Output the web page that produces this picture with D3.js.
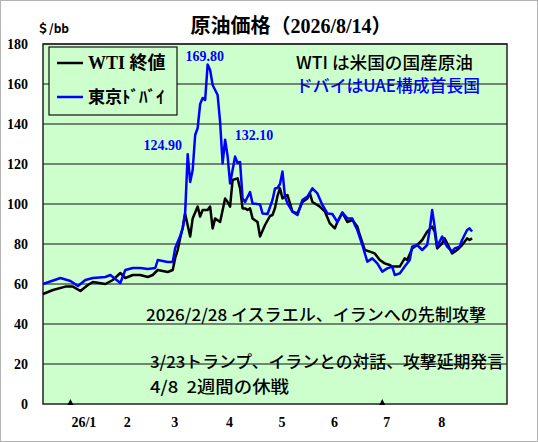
<!DOCTYPE html>
<html>
<head>
<meta charset="utf-8">
<script src="https://cdn.jsdelivr.net/npm/d3@7"></script>
<style>
  body { margin: 0; background: #fff; }
  .num { font-family: "Liberation Serif", "Times New Roman", serif; font-weight: bold; }
  .jp { font-family: "Noto Sans CJK JP", sans-serif; }
</style>
</head>
<body>
<svg width="538" height="442"></svg>
<script>
// trading-day index, value
var wti = [[0,55],[4,57],[9,58.7],[12,58.7],[15,56.5],[18,59.5],[20,61],[25,60],[28,62],[31,65.5],[33,63],
  [36,64.5],[39,64.5],[42,63.5],[44,64.5],[46,67],[50,66],[52,67],[53,73],[54,77],[55,83],[56,88],[57,95],
  [59,83.7],[60,92.8],[62,98.7],[63,93.7],[64,97],[66,97],[67,98.7],[68,87.8],[69,92.8],[71,91],[73,102.8],
  [74,101],[75,98.7],[76,112],[78,112.8],[79,107.8],[80,97.8],[81,97.8],[82,97],[83,97.8],[84,92.8],[86,91],
  [87,83.7],[89,89.5],[91,94],[92,94.5],[93,98],[94,104],[95,107.8],[96,102.8],[98,104.5],[100,96.2],
  [102,95.3],[104,101],[106,102.8],[107,105.3],[108,101],[111,98.7],[113,96.2],[115,90.3],[117,87.8],
  [118,91],[120,95.7],[122,91],[124,92],[126,88.7],[127,84.5],[129,77],[131,76.2],[133,75.3],[135,72],
  [137,70.3],[139,69.5],[140,68.7],[143,68.7],[145,72.8],[146,72],[148,77.8],[150,79.5],[152,82],[154,86.2],
  [156,88.7],[157,86.2],[158,77.8],[160,80.3],[161,82.8],[162,80.3],[164,75.3],[166,77],[168,79.5],
  [170,82.8],[171,82],[172,82.8]];

var dubai = [[0,60],[7,63],[11,61.5],[14,59],[17,62],[20,63],[25,63.5],[27,64.5],[30,61.5],[31,60.5],
  [33,67],[36,68],[39,68],[42,67.5],[45,68],[46,72],[50,71],[52,71],[53,78],[54,81],[55,84],[56,88],
  [57,96],[58,124.9],[59,111],[60,117],[61,134.5],[62,138],[63,150],[64,153],[65,152],[66,169.8],
  [67,167],[68,159.5],[69,157],[70,154.5],[71,141],[72,120.3],[73,132.1],[74,124],[75,110.3],[77,123.7],
  [78,120.5],[79,121],[80,102.8],[81,101],[83,106],[84,100.3],[87,99.8],[88,95.3],[90,95],[92,102],
  [93,107.8],[94,108],[95,110],[96,116.2],[97,103.7],[98,100.3],[100,96.2],[102,94.5],[104,102],
  [106,103.7],[108,107.8],[110,105.3],[112,99.5],[114,95.3],[116,95],[118,91],[120,95.7],[122,92.8],
  [124,92.8],[125,89.5],[126,87],[128,79.5],[130,71.2],[132,72.8],[134,70.3],[136,66.2],[138,67.8],
  [140,68.7],[141,64.5],[143,65.3],[145,68.7],[147,72],[148,78.7],[150,79.5],[152,77],[154,79.5],
  [155,87],[156,97],[157,88.7],[158,78.7],[160,83.7],[162,78.7],[164,76.2],[165,77.8],[167,78.7],
  [168,82],[170,87],[171,87.8],[172,86.2]];

var yTicks = [0, 20, 40, 60, 80, 100, 120, 140, 160, 180];
var monthLabels = ["26/1", "2", "3", "4", "5", "6", "7", "8"];
var monthIdx = [11, 32, 51, 73, 94, 115, 136, 158];
var markerIdx = [11, 136];
var peaks = [["124.90", 58], ["169.80", 66], ["132.10", 73]];
var notes = ["2026/2/28 イスラエル、イランへの先制攻撃",
             "3/23トランプ、イランとの対話、攻撃延期発言",
             "4/8  2週間の休戦"];

var svg = d3.select("svg"),
    width = +svg.attr("width"),
    height = +svg.attr("height");

var pl = 43, pr = 507, pt = 44, pb = 404;

var x = d3.scaleLinear().domain([0, 186]).range([pl, pr]);
var y = d3.scaleLinear().domain([0, 180]).range([pb, pt]);

// outer dotted frame
svg.append("rect")
    .attr("x", 0.5).attr("y", 0.5)
    .attr("width", width - 1).attr("height", height - 1)
    .attr("fill", "#fff")
    .attr("stroke", "#666")
    .attr("stroke-dasharray", "1,1");

// plot background
svg.append("rect")
    .attr("x", pl).attr("y", pt)
    .attr("width", pr - pl).attr("height", pb - pt)
    .attr("fill", "#ccffcc");

// title
svg.append("text")
    .attr("x", 291).attr("y", 33)
    .attr("text-anchor", "middle")
    .style("font-size", "20px")
    .style("font-weight", "bold")
    .style("font-family", "'Liberation Serif', 'Noto Sans CJK JP', serif")
    .text("原油価格（2026/8/14）");

svg.append("text")
    .attr("x", 37).attr("y", 33)
    .attr("class", "jp")
    .style("font-size", "12px")
    .style("font-weight", "bold")
    .text("＄/bb");

// notes (under the grid)
svg.append("text").attr("class", "jp")
    .attr("x", 296).attr("y", 69)
    .attr("textLength", 177).attr("lengthAdjust", "spacingAndGlyphs")
    .style("font-size", "17px")
    .style("font-weight", 500)
    .attr("fill", "#000")
    .text("WTI は米国の国産原油");
svg.append("text").attr("class", "jp")
    .attr("x", 296).attr("y", 92)
    .attr("textLength", 184).attr("lengthAdjust", "spacingAndGlyphs")
    .style("font-size", "17px")
    .style("font-weight", 500)
    .attr("fill", "#0000ff")
    .text("ドバイはUAE構成首長国");

var noteY = [321, 368, 393];
var noteW = [340, 354, 139];
svg.selectAll(".note")
    .data(notes)
    .enter().append("text")
    .attr("class", "note jp")
    .attr("x", function (d, i) { return i == 0 ? 146 : 150; })
    .attr("y", function (d, i) { return noteY[i]; })
    .attr("textLength", function (d, i) { return noteW[i]; })
    .attr("lengthAdjust", "spacingAndGlyphs")
    .style("font-size", "16.5px")
    .style("font-weight", 500)
    .style("white-space", "pre")
    .text(function (d) { return d; });

// grid
svg.append("g")
    .selectAll("line")
    .data(yTicks.slice(1))
    .enter().append("line")
    .attr("x1", pl).attr("x2", pr)
    .attr("y1", function (d) { return y(d); })
    .attr("y2", function (d) { return y(d); })
    .attr("stroke", "#111")
    .attr("stroke-width", 1.2);

// plot frame
svg.append("rect")
    .attr("x", pl).attr("y", pt)
    .attr("width", pr - pl).attr("height", pb - pt)
    .attr("fill", "none")
    .attr("stroke", "#222")
    .attr("stroke-width", 1.5);

// y labels
svg.append("g")
    .selectAll("text")
    .data(yTicks)
    .enter().append("text")
    .attr("class", "num")
    .attr("x", 28)
    .attr("y", function (d) { return y(d) + 5; })
    .attr("text-anchor", "end")
    .style("font-size", "14px")
    .text(function (d) { return d; });

// x labels
svg.append("g")
    .selectAll("text")
    .data(monthLabels)
    .enter().append("text")
    .attr("class", "num")
    .attr("x", function (d, i) { return x(monthIdx[i]) + 1; })
    .attr("y", 427)
    .style("font-size", "14px")
    .text(function (d) { return d; });

// triangle markers
svg.append("g")
    .selectAll("path")
    .data(markerIdx)
    .enter().append("path")
    .attr("d", function (d) {
        var cx = x(d);
        return "M" + (cx - 3) + "," + (pb + 1) + "L" + cx + "," + (pb - 5) + "L" + (cx + 3) + "," + (pb + 1) + "Z";
    })
    .attr("fill", "#000");

// lines
var line = d3.line()
    .x(function (d) { return x(d[0]); })
    .y(function (d) { return y(d[1]); });

svg.append("path")
    .attr("d", line(wti))
    .style("fill", "none")
    .style("stroke", "#000")
    .style("stroke-width", 2.5)
    .style("stroke-linejoin", "round");

svg.append("path")
    .attr("d", line(dubai))
    .style("fill", "none")
    .style("stroke", "#0000ff")
    .style("stroke-width", 2.5)
    .style("stroke-linejoin", "round");

// peak labels
var peakPos = { "124.90": [-25, -4], "169.80": [-3, -3], "132.10": [29, 0] };
svg.append("g")
    .selectAll("text")
    .data(peaks)
    .enter().append("text")
    .attr("class", "num")
    .attr("x", function (d) { return x(d[1]) + peakPos[d[0]][0]; })
    .attr("y", function (d) {
        var p = dubai.filter(function (e) { return e[0] == d[1]; })[0];
        return y(p[1]) + peakPos[d[0]][1];
    })
    .attr("text-anchor", "middle")
    .attr("fill", "#0000ff")
    .style("font-size", "14px")
    .text(function (d) { return d[0]; });

// legend
var lg = svg.append("g");
lg.append("rect")
    .attr("x", 49).attr("y", 47)
    .attr("width", 128).attr("height", 68)
    .attr("fill", "#ccffcc")
    .attr("stroke", "#111")
    .attr("stroke-width", 1.2);
lg.append("line").attr("x1", 57).attr("x2", 83).attr("y1", 63).attr("y2", 63)
    .attr("stroke", "#000").attr("stroke-width", 2.5);
lg.append("line").attr("x1", 57).attr("x2", 83).attr("y1", 97).attr("y2", 97)
    .attr("stroke", "#0000ff").attr("stroke-width", 2.5);
var t1 = lg.append("text").attr("x", 88).attr("y", 69).style("font-size", "18px").style("font-weight", "bold");
t1.append("tspan").attr("class", "num").text("WTI ");
t1.append("tspan").attr("class", "jp").text("終値");
lg.append("text").attr("class", "jp").attr("x", 88).attr("y", 103)
    .style("font-size", "17px").style("font-weight", "bold")
    .text("東京ﾄﾞﾊﾞｲ");
</script>
</body>
</html>
